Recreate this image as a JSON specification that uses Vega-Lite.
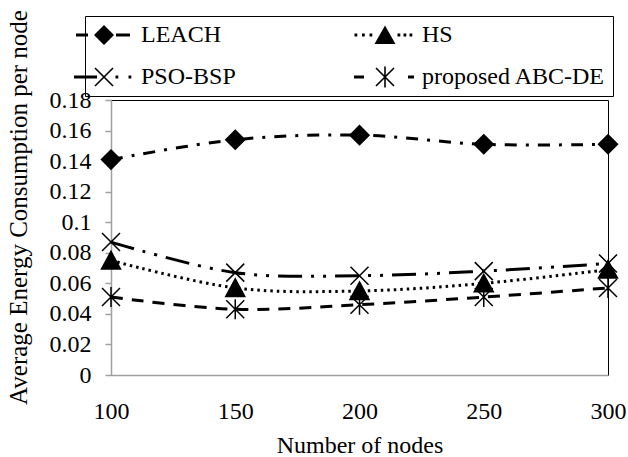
{
  "$schema": "https://vega.github.io/schema/vega-lite/v6.json",
  "width": 497,
  "height": 275,
  "autosize": "none",
  "padding": {"left": 111, "top": 100, "right": 20, "bottom": 82},
  "background": "white",
  "data": {
    "values": [
      {"n": 100, "series": "LEACH", "e": 0.141},
      {"n": 150, "series": "LEACH", "e": 0.154},
      {"n": 200, "series": "LEACH", "e": 0.157},
      {"n": 250, "series": "LEACH", "e": 0.151},
      {"n": 300, "series": "LEACH", "e": 0.151},
      {"n": 100, "series": "HS", "e": 0.075},
      {"n": 150, "series": "HS", "e": 0.057},
      {"n": 200, "series": "HS", "e": 0.055},
      {"n": 250, "series": "HS", "e": 0.060},
      {"n": 300, "series": "HS", "e": 0.069},
      {"n": 100, "series": "PSO-BSP", "e": 0.087},
      {"n": 150, "series": "PSO-BSP", "e": 0.067},
      {"n": 200, "series": "PSO-BSP", "e": 0.065},
      {"n": 250, "series": "PSO-BSP", "e": 0.068},
      {"n": 300, "series": "PSO-BSP", "e": 0.073},
      {"n": 100, "series": "proposed ABC-DE", "e": 0.051},
      {"n": 150, "series": "proposed ABC-DE", "e": 0.043},
      {"n": 200, "series": "proposed ABC-DE", "e": 0.046},
      {"n": 250, "series": "proposed ABC-DE", "e": 0.051},
      {"n": 300, "series": "proposed ABC-DE", "e": 0.057}
    ]
  },
  "config": {
    "font": "'Liberation Serif', 'Times New Roman', Times, serif",
    "view": {"stroke": "#000000", "strokeWidth": 1},
    "axis": {
      "labelFont": "'Liberation Serif', 'Times New Roman', Times, serif",
      "labelFontSize": 24,
      "labelColor": "#000000",
      "labelOverlap": false,
      "labelFlush": false,
      "titleFont": "'Liberation Serif', 'Times New Roman', Times, serif",
      "titleFontSize": 24,
      "titleFontWeight": "normal",
      "titleColor": "#000000",
      "grid": false,
      "domainColor": "#a0a0a0",
      "domainWidth": 1.5,
      "tickColor": "#a0a0a0",
      "tickWidth": 1.5
    },
    "legend": {
      "orient": "none",
      "legendX": -26,
      "legendY": -84,
      "direction": "horizontal",
      "columns": 2,
      "strokeColor": "#000000",
      "padding": 7,
      "labelFont": "'Liberation Serif', 'Times New Roman', Times, serif",
      "labelFontSize": 24,
      "labelColor": "#000000",
      "labelOffset": 25,
      "labelLimit": 400,
      "symbolSize": 400,
      "symbolFillColor": "#000000",
      "symbolStrokeColor": "#000000",
      "symbolStrokeWidth": 0,
      "symbolOpacity": 1,
      "columnPadding": 118,
      "rowPadding": 18
    }
  },
  "layer": [
    {
      "mark": {"type": "line", "interpolate": "cardinal", "strokeWidth": 3, "color": "#000000"},
      "encoding": {
        "x": {
          "field": "n", "type": "quantitative",
          "scale": {"domain": [100, 300], "nice": false, "zero": false},
          "axis": {
            "values": [100, 150, 200, 250, 300],
            "tickCount": 5,
            "ticks": false,
            "labelFlush": false,
            "labelOverlap": false,
            "labelPadding": 24,
            "title": "Number of nodes",
            "titleY": 77,
            "titleBaseline": "alphabetic"
          }
        },
        "y": {
          "field": "e", "type": "quantitative",
          "scale": {"domain": [0, 0.18], "nice": false},
          "axis": {
            "values": [0, 0.02, 0.04, 0.06, 0.08, 0.1, 0.12, 0.14, 0.16, 0.18],
            "tickCount": 10,
            "format": "~g",
            "labelOverlap": false,
            "labelFlush": false,
            "tickSize": 6,
            "labelPadding": 14,
            "title": "Average Energy Consumption per node",
            "titleFontSize": 25,
            "titleX": -80,
            "titleY": 107
          }
        },
        "strokeDash": {
          "field": "series", "type": "nominal",
          "scale": {
            "domain": ["LEACH", "HS", "PSO-BSP", "proposed ABC-DE"],
            "range": [[12, 9, 3, 9], [2.5, 4], [24, 9, 3, 9, 3, 9], [12, 9]]
          },
          "legend": null
        }
      }
    },
    {
      "mark": {"type": "point", "filled": true, "color": "#000000", "stroke": "#000000", "strokeWidth": 1.5, "size": 400, "opacity": 1},
      "encoding": {
        "x": {"field": "n", "type": "quantitative"},
        "y": {"field": "e", "type": "quantitative"},
        "shape": {
          "field": "series", "type": "nominal",
          "scale": {
            "domain": ["LEACH", "HS", "PSO-BSP", "proposed ABC-DE"],
            "range": [
              "M0,-0.95L0.95,0L0,0.95L-0.95,0Z",
              "M0,-0.9L0.95,0.85L-0.95,0.85Z",
              "M-0.9,-0.9L0.9,0.9M-0.9,0.9L0.9,-0.9",
              "M-0.9,-0.9L0.9,0.9M-0.9,0.9L0.9,-0.9M0,-1L0,1"
            ]
          },
          "legend": null
        }
      }
    },
    {
      "mark": {"type": "point", "filled": true, "color": "#000000", "size": 400, "opacity": 0},
      "encoding": {
        "x": {"field": "n", "type": "quantitative"},
        "y": {"field": "e", "type": "quantitative"},
        "shape": {
          "field": "series", "type": "nominal",
          "scale": {
            "domain": ["LEACH", "HS", "PSO-BSP", "proposed ABC-DE"],
            "range": [
              "M-2.8,-0.15H-1.6V0.15H-2.8Z M0,-1L1,0L0,1L-1,0Z M1.2,-0.15H2.6V0.15H1.2Z",
              "M-3.05,-0.14h0.28v0.28h-0.28Z M-2.3,-0.14h0.28v0.28h-0.28Z M-1.55,-0.14h0.28v0.28h-0.28Z M0,-0.95L1.05,0.9L-1.05,0.9Z M1.25,-0.14h0.28v0.28h-0.28Z M1.85,-0.14h0.28v0.28h-0.28Z M2.45,-0.14h0.28v0.28h-0.28Z",
              "M-3,-0.15H-0.7V0.15H-3Z M-0.843,-0.957L0.957,0.843L0.843,0.957L-0.957,-0.843Z M-0.957,0.843L0.843,-0.957L0.957,-0.843L-0.843,0.957Z M1.15,-0.14h0.28v0.28h-0.28Z M2.45,-0.14h0.28v0.28h-0.28Z",
              "M-3.1,-0.15H-2.1V0.15H-3.1Z M-0.843,-0.957L0.957,0.843L0.843,0.957L-0.957,-0.843Z M-0.957,0.843L0.843,-0.957L0.957,-0.843L-0.843,0.957Z M-0.08,-1.05H0.08V1.05H-0.08Z M2.3,-0.15H2.9V0.15H2.3Z"
            ]
          },
          "legend": {"title": null, "symbolOpacity": 1}
        }
      }
    }
  ],
  "resolve": {"scale": {"shape": "independent"}}
}
